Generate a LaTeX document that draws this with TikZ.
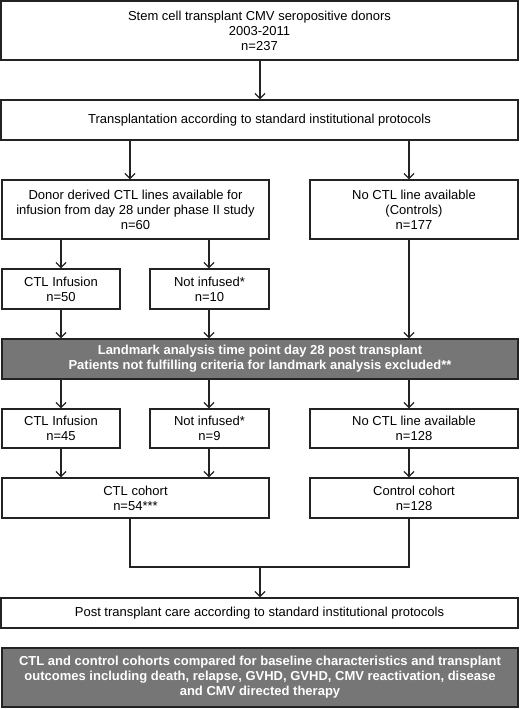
\documentclass[tikz,border=0pt]{standalone}
\usepackage{fontspec}
\setmainfont{Liberation Sans}
\usetikzlibrary{arrows.meta,calc}
\definecolor{boxgray}{RGB}{118,118,118}
\definecolor{edge}{RGB}{35,35,35}
\tikzset{
  box/.style={draw=edge,line width=1.3pt,fill=white,align=center,inner sep=0pt,
    font=\fontsize{13}{15}\selectfont},
  graybox/.style={box,fill=boxgray,text=white,font=\fontsize{13}{15}\selectfont\bfseries},
  arr/.style={draw=edge,line width=1.3pt,-{Straight Barb[length=5pt,width=10pt,line width=1.3pt]}},
  ln/.style={draw=edge,line width=1.3pt}
}
\begin{document}
\begin{tikzpicture}[x=1pt,y=-1pt]
\useasboundingbox (0,0) rectangle (520,709);
% helper columns
\coordinate (cL) at (130,0);
\coordinate (cR) at (409,0);
\coordinate (cM) at (260,0);
\coordinate (cA) at (61,0);
\coordinate (cB) at (209,0);

\node[box,minimum width=517pt,minimum height=59pt] (n1) at (259.5,30.5)
  {Stem cell transplant CMV seropositive donors\\2003-2011\\n=237};
\node[box,minimum width=517pt,minimum height=40pt] (n2) at (259.5,120)
  {Transplantation according to standard institutional protocols};
\node[box,minimum width=267pt,minimum height=59pt] (n3) at (135.5,209.5)
  {Donor derived CTL lines available for\\infusion from day 28 under phase II study\\n=60};
\node[box,minimum width=208pt,minimum height=59pt] (n4) at (414,209.5)
  {No CTL line available\\(Controls)\\n=177};
\node[box,minimum width=118pt,minimum height=40pt] (n4a) at (61,289)
  {CTL Infusion\\n=50};
\node[box,minimum width=119pt,minimum height=40pt] (n4b) at (209.5,289)
  {Not infused*\\n=10};
\node[graybox,minimum width=516pt,minimum height=40pt] (g1) at (260,359)
  {Landmark analysis time point day 28 post transplant\\Patients not fulfilling criteria for landmark analysis excluded**};
\node[box,minimum width=118pt,minimum height=39pt] (n5a) at (61,428.5)
  {CTL Infusion\\n=45};
\node[box,minimum width=119pt,minimum height=39pt] (n5b) at (209.5,428.5)
  {Not infused*\\n=9};
\node[box,minimum width=208pt,minimum height=39pt] (n5c) at (414,428.5)
  {No CTL line available\\n=128};
\node[box,minimum width=267pt,minimum height=40pt] (n6a) at (135.5,498)
  {CTL cohort\\n=54***};
\node[box,minimum width=208pt,minimum height=40pt] (n6b) at (414,498)
  {Control cohort\\n=128};
\node[box,minimum width=517pt,minimum height=30pt] (n7) at (259.5,613)
  {Post transplant care according to standard institutional protocols};
\node[graybox,minimum width=516pt,minimum height=59pt] (g2) at (260,677.5)
  {CTL and control cohorts compared for baseline characteristics and transplant\\outcomes including death, relapse, GVHD, GVHD, CMV reactivation, disease\\and CMV directed therapy};

\coordinate (jL) at (130,567);
\coordinate (jR) at (409,567);
\coordinate (jM) at (260,567);

\draw[arr] (n1.south -| cM) -- (n2.north -| cM);
\draw[arr] (n2.south -| cL) -- (n3.north -| cL);
\draw[arr] (n2.south -| cR) -- (n4.north -| cR);
\draw[arr] (n3.south -| cA) -- (n4a.north -| cA);
\draw[arr] (n3.south -| cB) -- (n4b.north -| cB);
\draw[arr] (n4a.south -| cA) -- (g1.north -| cA);
\draw[arr] (n4b.south -| cB) -- (g1.north -| cB);
\draw[arr] (n4.south -| cR) -- (g1.north -| cR);
\draw[arr] (g1.south -| cA) -- (n5a.north -| cA);
\draw[arr] (g1.south -| cB) -- (n5b.north -| cB);
\draw[arr] (g1.south -| cR) -- (n5c.north -| cR);
\draw[arr] (n5a.south -| cA) -- (n6a.north -| cA);
\draw[arr] (n5b.south -| cB) -- (n6a.north -| cB);
\draw[arr] (n5c.south -| cR) -- (n6b.north -| cR);
\draw[ln] (n6a.south -| cL) -- (jL) -- (jR) -- (n6b.south -| cR);
\draw[arr] (jM) -- (n7.north -| cM);
\end{tikzpicture}
\end{document}
